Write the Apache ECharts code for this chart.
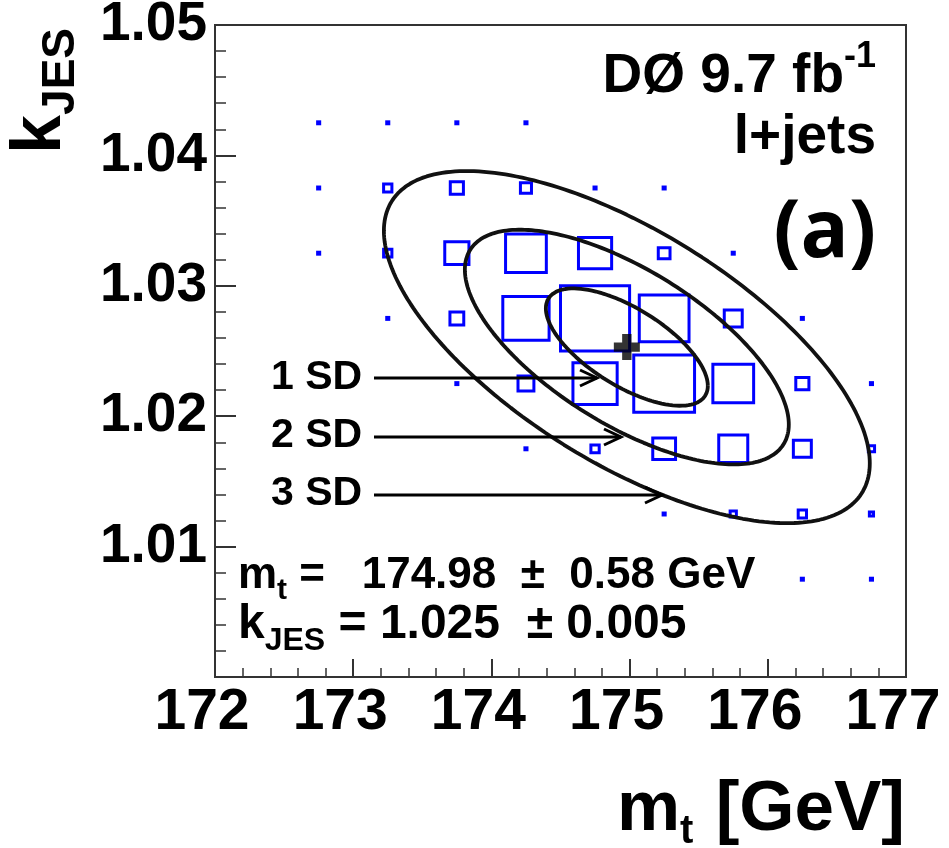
<!DOCTYPE html>
<html><head><meta charset="utf-8">
<script src="https://cdn.jsdelivr.net/npm/echarts@6/dist/echarts.min.js"></script>
<style>html,body{margin:0;padding:0;background:#fff}#c{width:949px;height:848px}</style>
</head><body><div id="c"></div>
<script>
// ---- data ----
const mtBins = [172.75, 173.25, 173.75, 174.25, 174.75, 175.25, 175.75, 176.25, 176.75];
const kjesBins = [1.0425, 1.0375, 1.0325, 1.0275, 1.0225, 1.0175, 1.0125, 1.0075];
// relative box side (box side / bin width) for each mt bin, one array per kJES row
const row10425 = [0.03, 0.03, 0.03, 0.03, 0, 0, 0, 0, 0];
const row10375 = [0.03, 0.12, 0.19, 0.16, 0.03, 0.03, 0, 0, 0];
const row10325 = [0.03, 0.12, 0.35, 0.59, 0.48, 0.17, 0.03, 0, 0];
const row10275 = [0, 0.03, 0.20, 0.67, 1.00, 0.72, 0.26, 0.03, 0];
const row10225 = [0, 0, 0.03, 0.23, 0.64, 0.88, 0.59, 0.19, 0.03];
const row10175 = [0, 0, 0, 0.03, 0.12, 0.33, 0.42, 0.26, 0.09];
const row10125 = [0, 0, 0, 0, 0, 0.03, 0.09, 0.12, 0.06];
const row10075 = [0, 0, 0, 0, 0, 0, 0, 0.03, 0.03];
const boxRows = [row10425, row10375, row10325, row10275, row10225, row10175, row10125, row10075];
const binWidthMt = 0.5;
const binWidthK = 0.005;

// fit result and its covariance (ellipse = n standard deviations)
const fitMt = 174.98;
const fitK = 1.0253;
const sigmaMt = 0.586;
const sigmaK = 0.0045;
const rhoMtK = -0.66;
const sdLevels = [1, 2, 3];

const xTickLabels = ['172', '173', '174', '175', '176', '177'];
const yTickLabels = ['', '1.01', '1.02', '1.03', '1.04', '1.05'];

// ---- build series ----
const boxData = [];
boxRows.forEach((row, j) => row.forEach((c, i) => { if (c > 0) boxData.push([mtBins[i], kjesBins[j], c]); }));

function ellipse(n) {
  const pts = [];
  const N = 240;
  const s = Math.sqrt(1 - rhoMtK * rhoMtK);
  for (let i = 0; i <= N; i++) {
    const t = 2 * Math.PI * i / N;
    pts.push([fitMt + n * sigmaMt * Math.cos(t), fitK + n * sigmaK * (rhoMtK * Math.cos(t) + s * Math.sin(t))]);
  }
  return pts;
}

const FONT = "'Liberation Sans', Arial, Helvetica, sans-serif";

const chart = echarts.init(document.getElementById('c'), null, { renderer: 'canvas' });

const series = [{
  type: 'custom',
  data: boxData,
  z: 2,
  renderItem: function (params, api) {
    const c = api.value(2);
    const p = api.coord([api.value(0), api.value(1)]);
    const sz = api.size([binWidthMt * c, binWidthK * c]);
    return {
      type: 'rect',
      shape: { x: p[0] - sz[0] / 2, y: p[1] - sz[1] / 2, width: sz[0], height: sz[1] },
      style: { fill: 'none', stroke: '#0000ff', lineWidth: 3 }
    };
  }
}];
sdLevels.forEach(n => series.push({
  type: 'line', data: ellipse(n), showSymbol: false, smooth: false, z: 3,
  lineStyle: { color: '#111', width: 3.8 }, silent: true
}));
series.push({
  type: 'scatter', data: [[fitMt, fitK]], z: 4,
  symbol: 'path://M3.2,0H6.8V3.2H10V6.8H6.8V10H3.2V6.8H0V3.2H3.2Z',
  symbolSize: 26, itemStyle: { color: '#000' }
});

function txt(x, y, rich, text, align, extra) {
  return Object.assign({
    type: 'text', x: x, y: y, z: 10,
    style: { text: text, rich: rich, align: align || 'left', verticalAlign: 'top', fill: '#000' }
  }, extra || {});
}
// token: font size and top padding (used to shift sub/superscripts)
function tok(size, padTop, family) {
  return { fontSize: size, fontFamily: family || FONT, fontWeight: 'bold', verticalAlign: 'top', padding: [padTop, 0, 0, 0], color: '#000' };
}
function arrow(x0, x1, y) {
  return [
    { type: 'polyline', z: 10, shape: { points: [[x0, y], [x1, y]] }, style: { stroke: '#000', lineWidth: 3, fill: null } },
    { type: 'polyline', z: 10, shape: { points: [[x1 - 17, y - 8], [x1, y], [x1 - 17, y + 8]] }, style: { stroke: '#000', lineWidth: 3, fill: null } }
  ];
}

const graphics = [
  // y axis title k_JES (rotated)
  txt(6, 28, { a: tok(70, 0), s: tok(46, 32) }, '{a|k}{s|JES}', 'right', { rotation: Math.PI / 2 }),
  // x axis title m_t [GeV]
  txt(905, 775, { a: tok(71, 0), s: tok(40, 37) }, '{a|m}{s|t  }{a|[GeV]}', 'right'),
  // experiment label
  txt(876, 39, { a: tok(55, 10), p: tok(36, 0) }, '{a|DØ 9.7 fb}{p|-1}', 'right'),
  txt(876, 110, { a: tok(55, 0) }, '{a|l+jets}', 'right'),
  txt(876, 194, { a: tok(80, 0, "'Open Sans', " + FONT) }, '{a|(a)}', 'right'),
  // SD labels
  txt(271, 357, { a: tok(41, 0) }, '{a|1 SD}'),
  txt(271, 415, { a: tok(41, 0) }, '{a|2 SD}'),
  txt(271, 473, { a: tok(41, 0) }, '{a|3 SD}'),
  // results
  txt(238, 554, { a: tok(44, 0), s: tok(30, 22) }, '{a|m}{s|t}{a| =   174.98  ±  0.58 GeV}'),
  txt(238, 601, { a: tok(48, 0), s: tok(32, 24) }, '{a|k}{s|JES}{a| = 1.025  ± 0.005}')
].concat(arrow(374, 597, 378), arrow(374, 621, 437), arrow(374, 662, 495));

chart.setOption({
  animation: false,
  backgroundColor: '#fff',
  grid: {
    left: 215, top: 25, right: 43, bottom: 171, containLabel: false, outerBoundsMode: 'none',
    show: true, borderColor: '#333', borderWidth: 2, backgroundColor: 'transparent'
  },
  xAxis: {
    type: 'value', min: 172, max: 177, interval: 1,
    axisLine: { show: false },
    axisTick: { show: true, inside: true, length: 18, lineStyle: { color: '#333', width: 2 } },
    minorTick: { show: true, splitNumber: 5, length: 9, lineStyle: { color: '#333', width: 1.5 } },
    splitLine: { show: false },
    axisLabel: {
      showMinLabel: true, showMaxLabel: true, hideOverlap: false,
      margin: 6, fontSize: 57, lineHeight: 60, fontWeight: 'bold', fontFamily: FONT, color: '#000',
      padding: [0, 26, 0, 0],
      formatter: function (v) { return xTickLabels[Math.round(v - 172)]; }
    }
  },
  yAxis: {
    type: 'value', min: 1.0, max: 1.05, interval: 0.01,
    axisLine: { show: false },
    axisTick: { show: true, inside: true, length: 21, lineStyle: { color: '#333', width: 2 } },
    minorTick: { show: true, splitNumber: 5, length: 11, lineStyle: { color: '#333', width: 1.5 } },
    splitLine: { show: false },
    axisLabel: {
      showMinLabel: true, showMaxLabel: true,
      margin: 8, fontSize: 55, fontWeight: 'bold', fontFamily: FONT, color: '#000',
      formatter: function (v) { return yTickLabels[Math.round((v - 1.0) * 100)]; }
    }
  },
  series: series,
  graphic: graphics
});
</script></body></html>
